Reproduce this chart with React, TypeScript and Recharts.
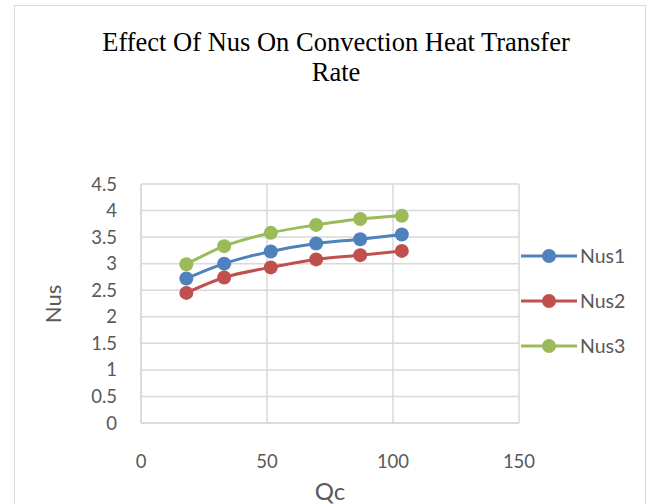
import React from 'react';
import { LineChart, Line, XAxis, YAxis, CartesianGrid } from 'recharts';

const qc = [18, 33, 51.5, 69.5, 87, 103.5];
const nus1 = [2.72, 3.0, 3.23, 3.38, 3.46, 3.55];
const nus2 = [2.45, 2.74, 2.93, 3.08, 3.16, 3.24];
const nus3 = [2.99, 3.33, 3.58, 3.73, 3.84, 3.9];
const xTicks = [0, 50, 100, 150];
const yTicks = [0, 0.5, 1, 1.5, 2, 2.5, 3, 3.5, 4, 4.5];

const SERIES = [
  { key: 'Nus1', color: '#4f81bd' },
  { key: 'Nus2', color: '#c0504d' },
  { key: 'Nus3', color: '#9bbb59' }
];

const data = qc.map((q, i) => ({ qc: q, Nus1: nus1[i], Nus2: nus2[i], Nus3: nus3[i] }));

const FONT = 'Lato, "Open Sans", sans-serif';
const GRID = '#d9d9d9';

function LegendBox() {
  return (
    <div style={{ position: 'absolute', left: 521, top: 233 }}>
      {SERIES.map(s => (
        <div key={s.key} style={{ display: 'flex', alignItems: 'center', height: 45 }}>
          <svg width={56} height={16}>
            <line x1={0} y1={8} x2={56} y2={8} stroke={s.color} strokeWidth={3} />
            <circle cx={28} cy={8} r={7} fill={s.color} />
          </svg>
          <span style={{ fontFamily: FONT, fontSize: 19.5, color: '#595959', marginLeft: 3 }}>{s.key}</span>
        </div>
      ))}
    </div>
  );
}

export default function App() {
  return (
    <div style={{ position: 'absolute', left: 0, top: 0, width: 653, height: 504, background: '#fff', overflow: 'hidden' }}>
      <div style={{ position: 'absolute', left: 14, top: 5, width: 630, height: 520, border: '1px solid #d9d9d9' }} />
      <div style={{
        position: 'absolute', left: 36, top: 27, width: 600, textAlign: 'center',
        fontFamily: '"Liberation Serif", "Times New Roman", serif', fontSize: 26.5, lineHeight: '30px', color: '#000'
      }}>
        Effect Of Nus On Convection Heat Transfer<br />Rate
      </div>
      <div style={{
        position: 'absolute', left: 52, top: 304, transform: 'translate(-50%, -50%) rotate(-90deg)',
        fontFamily: FONT, fontSize: 22, color: '#595959'
      }}>Nus</div>
      <div style={{
        position: 'absolute', left: 330, top: 490, transform: 'translate(-50%, -50%)',
        fontFamily: FONT, fontSize: 24, color: '#595959'
      }}>Qc</div>
      <LegendBox />
      <div style={{ position: 'absolute', left: 0, top: 0 }}>
        <LineChart width={653} height={504} data={data}
          margin={{ top: 184, right: 134, bottom: 31, left: 81 }}>
          <CartesianGrid stroke={GRID} strokeWidth={1.5} />
          <XAxis dataKey="qc" type="number" domain={[0, 150]} ticks={xTicks} height={50} interval={0}
            axisLine={{ stroke: GRID, strokeWidth: 1.5 }} tickLine={false} tickSize={0} tickMargin={32}
            tick={{ fill: '#595959', fontSize: 18.5, fontFamily: FONT }} />
          <YAxis type="number" domain={[0, 4.5]} ticks={yTicks} width={60} interval={0}
            axisLine={{ stroke: GRID, strokeWidth: 1.5 }} tickLine={false} tickSize={0} tickMargin={24}
            tick={{ fill: '#595959', fontSize: 18.5, fontFamily: FONT }} />
          {SERIES.map(s => (
            <Line key={s.key} dataKey={s.key} type="monotone" stroke={s.color} strokeWidth={3}
              dot={{ r: 7, fill: s.color, stroke: s.color, strokeWidth: 0 }} isAnimationActive={false} />
          ))}
        </LineChart>
      </div>
    </div>
  );
}
